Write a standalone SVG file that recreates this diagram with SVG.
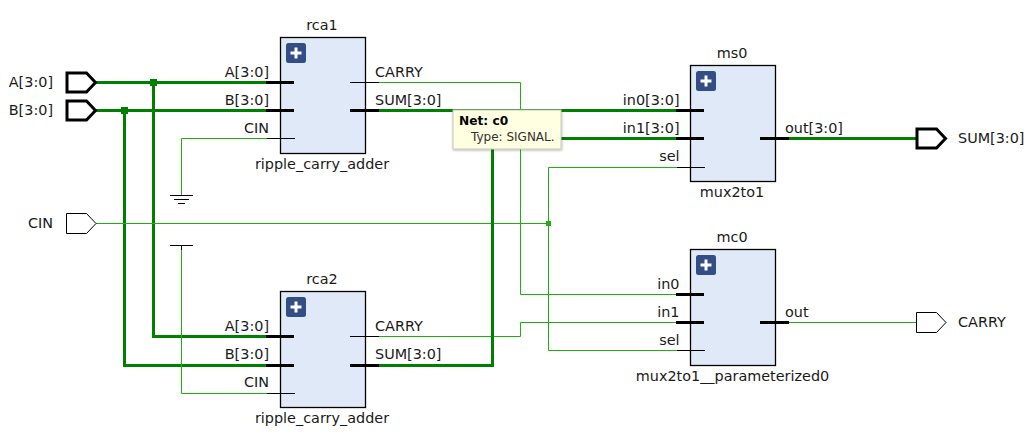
<svg xmlns="http://www.w3.org/2000/svg" width="1031" height="439" viewBox="0 0 1031 439">
<style>
text{font-family:"DejaVu Sans",sans-serif;font-size:14.4px;fill:#1a1a1a}
.e{text-anchor:end}.m{text-anchor:middle}
.box{fill:#dfe9f8;stroke:#000;stroke-width:1.3}
.ic{fill:#334d85}
.pl{stroke:#fff;stroke-width:3;fill:none}
.pt{stroke:#000;stroke-width:3;fill:none}
.pn{stroke:#000;stroke-width:1;fill:none}
.bus{stroke:#008000;stroke-width:3;fill:none}
.sig{stroke:#1fb010;stroke-width:1;fill:none}
.pb{fill:#fff;stroke:#000;stroke-width:3}
.ps{fill:#fff;stroke:#000;stroke-width:1}
.blk{stroke:#000;stroke-width:1;fill:none}
</style>
<defs>
<g id="plus"><rect class="ic" x="0" y="0" width="20" height="20" rx="2.5"/><path class="pl" d="M4.500 10H15.500M10 4.500V15.500"/></g>
<filter id="sh" x="-10%" y="-20%" width="120%" height="140%"><feDropShadow dx="0.500" dy="1" stdDeviation="1.200" flood-color="#000" flood-opacity="0.300"/></filter>
</defs>
<g id="connectors">
<path class="bus" d="M96 82.500H266"/>
<path class="bus" d="M96 110.500H266"/>
<path class="bus" d="M153.500 82.500V336.500H266"/>
<path class="bus" d="M124.500 110.500V365.500H266"/>
<rect x="150" y="79" width="7" height="7" fill="#008000"/>
<rect x="121" y="107" width="7" height="7" fill="#008000"/>
<path class="sig" d="M267 138.500H181.500V195"/>
<path class="sig" d="M181.500 250V393.500H267"/>
<path class="sig" d="M96 223.500H548"/>
<path class="sig" d="M379 82.500H520.500V294.500H676"/>
<path class="sig" d="M379 336.500H520.500V322.500H676"/>
<path class="sig" d="M677 167.500H548.500V350.500H677"/>
<rect x="546" y="221" width="5" height="5" fill="#1fb010"/>
<path class="bus" d="M379 110.500H676"/>
<path class="bus" d="M379 365.500H492.500V138.500H676"/>
<path class="bus" d="M789 138.500H916"/>
<path class="sig" d="M789 322.500H916"/>
</g>
<g id="gnd"><path class="blk" d="M170 195.500H193M174 199.500H189M178 203.500H185"/></g>
<g id="vcc"><path class="blk" d="M170 245.500H193M181.500 245V250"/></g>
<g id="port_A"><path class="pb" d="M67 73H86.500L95.500 82.500L86.500 92H67Z"/><text class="e" x="53" y="87">A[3:0]</text></g>
<g id="port_B"><path class="pb" d="M67 101H86.500L95.500 110.500L86.500 120H67Z"/><text class="e" x="53" y="115">B[3:0]</text></g>
<g id="port_CIN"><path class="ps" d="M66.500 213.500H86.500L96 223.500L86.500 233.500H66.500Z"/><text class="e" x="53" y="228">CIN</text></g>
<g id="port_SUM"><path class="pb" d="M917 129H936.500L945.500 138.500L936.500 148H917Z"/><text x="958" y="143">SUM[3:0]</text></g>
<g id="port_CARRY"><path class="ps" d="M916.500 312.500H936.500L946 322.500L936.500 332.500H916.500Z"/><text x="958" y="327">CARRY</text></g>
<g id="rca1">
<rect class="box" x="280.500" y="37.500" width="85" height="116"/>
<use href="#plus" x="286" y="43"/>
<path class="pt" d="M266 82.500H294M266 110.500H294M350 110.500H379"/>
<path class="pn" d="M267 138.500H295M350 82.500H379"/>
<text class="m" x="322" y="30">rca1</text>
<text class="m" x="322" y="169">ripple_carry_adder</text>
<text class="e" x="269" y="77">A[3:0]</text><text class="e" x="269" y="105">B[3:0]</text><text class="e" x="269" y="133">CIN</text>
<text x="375" y="77">CARRY</text><text x="375" y="105">SUM[3:0]</text>
</g>
<g id="rca2">
<rect class="box" x="280.500" y="291.500" width="85" height="116"/>
<use href="#plus" x="286" y="297"/>
<path class="pt" d="M266 336.500H294M266 365.500H294M350 365.500H379"/>
<path class="pn" d="M267 393.500H295M350 336.500H379"/>
<text class="m" x="322" y="284">rca2</text>
<text class="m" x="322" y="423">ripple_carry_adder</text>
<text class="e" x="269" y="331">A[3:0]</text><text class="e" x="269" y="359">B[3:0]</text><text class="e" x="269" y="387">CIN</text>
<text x="375" y="331">CARRY</text><text x="375" y="359">SUM[3:0]</text>
</g>
<g id="ms0">
<rect class="box" x="690.500" y="65.500" width="85" height="116"/>
<use href="#plus" x="696" y="71"/>
<path class="pt" d="M676 110.500H704M676 138.500H704M760 138.500H789"/>
<path class="pn" d="M677 167.500H705"/>
<text class="m" x="732" y="58">ms0</text>
<text class="m" x="732" y="197">mux2to1</text>
<text class="e" x="679.500" y="105">in0[3:0]</text><text class="e" x="679.500" y="133">in1[3:0]</text><text class="e" x="679.500" y="161">sel</text>
<text x="785" y="133">out[3:0]</text>
</g>
<g id="mc0">
<rect class="box" x="690.500" y="249.500" width="85" height="116"/>
<use href="#plus" x="696" y="255"/>
<path class="pt" d="M676 294.500H704M676 322.500H704M760 322.500H789"/>
<path class="pn" d="M677 350.500H705"/>
<text class="m" x="732" y="242">mc0</text>
<text class="m" x="732.500" y="381">mux2to1__parameterized0</text>
<text class="e" x="679.500" y="289">in0</text><text class="e" x="679.500" y="317">in1</text><text class="e" x="679.500" y="345">sel</text>
<text x="785" y="317">out</text>
</g>
<g id="tooltip">
<rect x="453" y="110" width="108" height="39" fill="#ffffe1" stroke="#c8c8b8" stroke-width="1" filter="url(#sh)"/>
<text x="459" y="125" style="font-size:12.2px;font-weight:bold;fill:#000">Net: c0</text>
<text x="471" y="141" style="font-size:12px;fill:#303030">Type: SIGNAL.</text>
</g>
</svg>
